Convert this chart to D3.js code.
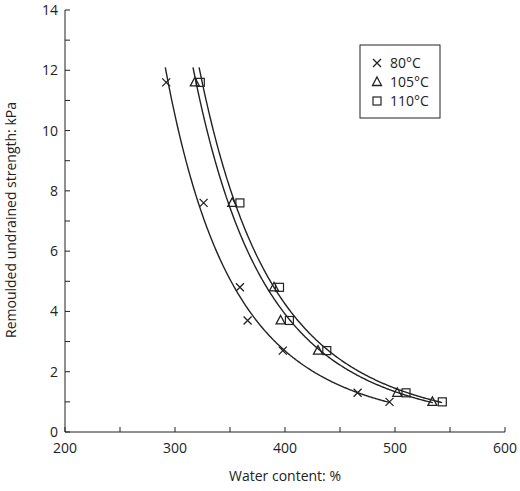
<!DOCTYPE html><html><head><script src="https://cdn.jsdelivr.net/npm/d3@7"></script>
<style>body{margin:0;background:#fff}text{font-family:"Open Sans","DejaVu Sans",sans-serif;fill:#222}</style></head><body>
<svg id="c" width="520" height="491"></svg>
<script>
const series = ["80°C","105°C","110°C"];
const w80 = [292,326,359,366,398,466,495];
const s80 = [11.6,7.6,4.8,3.7,2.7,1.3,1.0];
const w105 = [318,352,390,396,430,502,534];
const s105 = [11.6,7.6,4.8,3.7,2.7,1.3,1.0];
const w110 = [323,359,395,404,438,510,543];
const s110 = [11.6,7.6,4.8,3.7,2.7,1.3,1.0];
const xTicks = [200,300,400,500,600];
const yTicks = [0,2,4,6,8,10,12,14];
const data = [[w80,s80,"x"],[w105,s105,"t"],[w110,s110,"s"]];

const svg = d3.select("#c");
const x = d3.scaleLinear().domain([200,600]).range([65,505]);
const y = d3.scaleLinear().domain([0,14]).range([432,10]);
const g = svg.append("g");
g.append("line").attr("x1",65).attr("x2",505).attr("y1",432).attr("y2",432).attr("stroke","#222");
g.append("line").attr("x1",65).attr("x2",65).attr("y1",10).attr("y2",432).attr("stroke","#222");
d3.range(200,601,50).forEach(v=>g.append("line").attr("x1",x(v)).attr("x2",x(v)).attr("y1",432).attr("y2",427).attr("stroke","#222"));
d3.range(0,14.1,1).forEach(v=>g.append("line").attr("x1",65).attr("x2",70).attr("y1",y(v)).attr("y2",y(v)).attr("stroke","#222"));
xTicks.forEach(v=>g.append("text").attr("x",x(v)).attr("y",453).attr("text-anchor","middle").attr("font-size",14).text(v));
yTicks.forEach(v=>g.append("text").attr("x",58).attr("y",y(v)+5).attr("text-anchor","end").attr("font-size",14).text(v));
g.append("text").attr("x",285).attr("y",481).attr("text-anchor","middle").attr("font-size",14).text("Water content: %");
g.append("text").attr("transform","translate(16,220) rotate(-90)").attr("text-anchor","middle").attr("font-size",14).text("Remoulded undrained strength: kPa");

function marker(sel,type,cx,cy){
  if(type==="x"){sel.append("path").attr("d",`M${cx-4},${cy-4}L${cx+4},${cy+4}M${cx-4},${cy+4}L${cx+4},${cy-4}`).attr("stroke","#222").attr("stroke-width",1.3);}
  else if(type==="t"){sel.append("path").attr("d",`M${cx},${cy-5}L${cx+4.5},${cy+3.5}L${cx-4.5},${cy+3.5}Z`).attr("stroke","#222").attr("stroke-width",1.3).attr("fill","none");}
  else {sel.append("rect").attr("x",cx-4).attr("y",cy-4).attr("width",8).attr("height",8).attr("stroke","#222").attr("stroke-width",1.2).attr("fill","none");}
}
const line = d3.line().x(d=>x(d[0])).y(d=>y(d[1]));
data.forEach(([ws,ss,t])=>{
  const lx = ws.map(Math.log), ly = ss.map(Math.log);
  const mx = d3.mean(lx), my = d3.mean(ly);
  const b = d3.sum(lx.map((v,i)=>(v-mx)*(ly[i]-my)))/d3.sum(lx.map(v=>(v-mx)**2));
  const a = my - b*mx;
  const wStart = Math.exp((Math.log(12.1)-a)/b);
  const pts = d3.range(wStart, d3.max(ws)+0.5, 1).map(w=>[w,Math.exp(a+b*Math.log(w))]);
  g.append("path").attr("d",line(pts)).attr("fill","none").attr("stroke","#222").attr("stroke-width",1.4);
  ws.forEach((w,i)=>marker(g,t,x(w),y(ss[i])));
});
g.append("rect").attr("x",360).attr("y",45).attr("width",80).attr("height",73).attr("fill","#fff").attr("stroke","#222");
series.forEach((s,i)=>{
  marker(g,["x","t","s"][i],377,63+i*19);
  g.append("text").attr("x",390).attr("y",68+i*19).attr("font-size",14).text(s);
});
</script></body></html>
